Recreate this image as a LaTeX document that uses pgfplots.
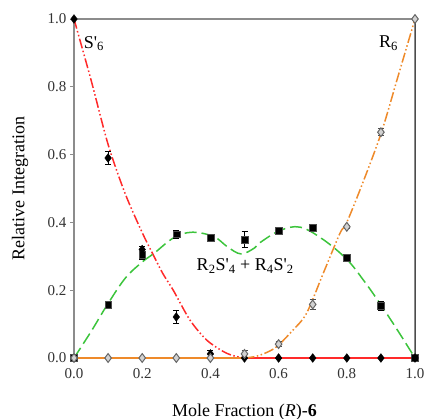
\documentclass[border=0pt]{standalone}
\usepackage{fontspec}
\setmainfont{Liberation Serif}
\usepackage{pgfplots}
\usepackage{pgfplotstable}
\pgfplotsset{compat=1.18}
\definecolor{cred}{HTML}{FF2A2A}
\definecolor{corange}{HTML}{EE8A2A}
\definecolor{cgreen}{HTML}{3CC43C}
\definecolor{axgray}{HTML}{8C8C8C}

\pgfplotstableread{
x y
0 1.0
0.05 0.82
0.1 0.63
0.15 0.485
0.2 0.37
0.231 0.307
0.26 0.25
0.291 0.20
0.34 0.112
0.389 0.053
0.438 0.019
0.47 0.006
0.5 0
}\redcurve
\pgfplotstableread{
x y
0.5 0
0.53 0.004
0.56 0.014
0.594 0.033
0.64 0.08
0.682 0.132
0.731 0.25
0.78 0.368
0.8 0.40
0.85 0.525
0.902 0.667
0.95 0.83
1.0 1.0
}\orangecurve
\pgfplotstableread{
x y
0 0
0.05 0.078
0.097 0.156
0.15 0.235
0.2 0.283
0.235 0.309
0.293 0.355
0.347 0.371
0.41 0.358
0.45 0.328
0.49 0.307
0.53 0.325
0.545 0.340
0.604 0.376
0.663 0.386
0.73 0.350
0.8 0.291
0.85 0.228
0.897 0.161
0.95 0.08
1.0 0
}\greencurve
\pgfplotstableread{
x y e
0 1.0 0
0.1 0.59 0.02
0.2 0.32 0.01
0.3 0.121 0.02
0.4 0.012 0.01
0.5 0 0
0.6 0 0
0.7 0 0
0.8 0 0
0.9 0 0
1.0 0 0
}\sdata
\pgfplotstableread{
x y e
0 0 0
0.1 0.158 0.008
0.2 0.305 0.015
0.3 0.365 0.012
0.4 0.355 0.005
0.5 0.35 0.025
0.6 0.375 0.005
0.7 0.384 0.008
0.8 0.296 0
0.9 0.154 0.012
1.0 0 0
}\mdata
\pgfplotstableread{
x y e
0 0 0
0.1 0 0
0.2 0 0
0.3 0 0
0.4 0 0
0.5 0.012 0.012
0.6 0.041 0.008
0.7 0.158 0.015
0.8 0.387 0.005
0.9 0.666 0.01
1.0 1.0 0
}\rdata

\begin{document}
\begin{tikzpicture}
\begin{axis}[
  scale only axis,
  width=341pt, height=339pt,
  xmin=0, xmax=1, ymin=0, ymax=1,
  xtick={0,0.2,0.4,0.6,0.8,1},
  ytick={0,0.2,0.4,0.6,0.8,1},
  xtick pos=left, ytick pos=left,
  tick align=outside,
  major tick length=4pt,
  x tick style={draw=none},
  y tick style={draw=axgray, line width=0.8pt},
  /pgf/number format/.cd, fixed, fixed zerofill, precision=1, assume math mode=true,
  /pgfplots/.cd,
  tick label style={font=\fontsize{15}{17}\selectfont, text=black!80},
  xticklabel style={yshift=-3pt},
  axis line style={draw=axgray, line width=1.3pt},
  xlabel={Mole Fraction (\textit{R})-\textbf{6}},
  ylabel={Relative Integration},
  every axis x label/.style={at={(axis description cs:0.5,-0.159)}, anchor=center, font=\fontsize{18}{20}\selectfont},
  every axis y label/.style={at={(axis description cs:-0.158,0.5)}, anchor=center, rotate=90, font=\fontsize{18}{20}\selectfont},
  clip=false,
]
% curves
\addplot[cred, line width=1.5pt, dash pattern=on 10pt off 2.5pt on 1.5pt off 2.5pt on 1.5pt off 2.5pt, smooth] table[x=x,y=y] {\redcurve};
\addplot[cred, line width=1.5pt] coordinates {(0.5,0) (1.0,0)};
\addplot[corange, line width=1.5pt, dash pattern=on 10pt off 2.5pt on 1.5pt off 2.5pt on 1.5pt off 2.5pt, smooth] table[x=x,y=y] {\orangecurve};
\addplot[corange, line width=1.5pt] coordinates {(0,0) (0.5,0)};
\addplot[cgreen, line width=1.5pt, dash pattern=on 12pt off 5pt, smooth, tension=0.6] table[x=x,y=y] {\greencurve};
% markers
\addplot[only marks, mark=square*, mark size=3.4pt, mark options={fill=black, draw=black!70},
  error bars/.cd, y dir=both, y explicit,
  error bar style={black, line width=0.7pt},
  error mark options={rotate=90, mark size=3pt, black, line width=0.7pt}]
  table[x=x, y=y, y error=e] {\mdata};
\addplot[only marks, mark=diamond*, mark size=4.4pt, mark options={fill=black, draw=black},
  error bars/.cd, y dir=both, y explicit,
  error bar style={black, line width=0.7pt},
  error mark options={rotate=90, mark size=3pt, black, line width=0.7pt}]
  table[x=x, y=y, y error=e] {\sdata};
\addplot[only marks, mark=diamond*, mark size=4.4pt, mark options={fill=gray!35, draw=black!60, line width=1pt},
  error bars/.cd, y dir=both, y explicit,
  error bar style={black!70, line width=0.7pt},
  error mark options={rotate=90, mark size=3pt, black!70, line width=0.7pt}]
  table[x=x, y=y, y error=e] {\rdata};
% right border darker
\draw[black!70, line width=0.9pt] (rel axis cs:1,0) -- (rel axis cs:1,1);
% annotations
\node[font=\fontsize{18}{20}\selectfont, anchor=center] at (axis cs:0.058,0.928) {S\textquotesingle\textsubscript{6}};
\node[font=\fontsize{18}{20}\selectfont, anchor=center] at (axis cs:0.922,0.928) {R\textsubscript{6}};
\node[font=\fontsize{18}{20}\selectfont, anchor=center] at (axis cs:0.502,0.272) {R\textsubscript{2}S\textquotesingle\textsubscript{4} + R\textsubscript{4}S\textquotesingle\textsubscript{2}};
\end{axis}
\pgfresetboundingbox
\path ([shift={(-74pt,-61pt)}]current axis.south west) rectangle ([shift={(10pt,19pt)}]current axis.north east);
\end{tikzpicture}
\end{document}
